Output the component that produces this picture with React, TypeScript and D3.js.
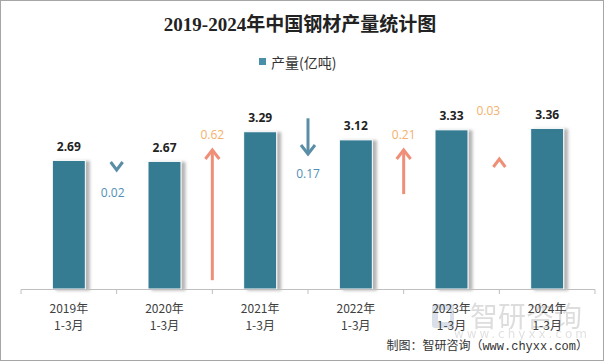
import React from "react";
import * as d3 from "d3";

const categories = ["2019年", "2020年", "2021年", "2022年", "2023年", "2024年"];
const periodLabel = "1-3月";
const production = [2.69, 2.67, 3.29, 3.12, 3.33, 3.36];
const changes = [-0.02, 0.62, -0.17, 0.21, 0.03];
const title = "2019-2024年中国钢材产量统计图";
const legendLabel = "产量(亿吨)";
const sourceText = "制图：智研咨询（www.chyxx.com）";
const watermarkName = "智研咨询";
const watermarkUrl = "www.chyxx.com";

const W = 604;
const H = 361;
const BAR = "#367b93";
const UP_ARROW = "#ef8f78";
const UP_TEXT = "#f5b06c";
const DOWN_ARROW = "#5a8ea7";
const DOWN_TEXT = "#4f8fb4";
const CJK = "'Noto Sans CJK SC', 'Noto Sans', sans-serif";

export default function App() {
  const x = d3.scaleBand<string>().domain(categories).range([21, 595]).padding(0);
  const y = d3.scaleLinear().domain([0, 4]).range([289, 97.8]);
  const arrowLen = d3.scaleLinear().domain([0, 1]).range([0, 210]);
  const step = x.bandwidth();
  const barW = step * 0.345;
  const boundaries = categories.map((c) => x(c)!).concat([x.range()[1]]);

  const arrows = changes.map((ch, i) => {
    const bx = boundaries[i + 1];
    const up = ch > 0;
    const len = arrowLen(Math.abs(ch));
    const chevron = len < 12;
    const hw = chevron ? 6 : 7;
    const hh = chevron ? 8 : 9;
    const color = up ? UP_ARROW : DOWN_ARROW;
    const tc = up ? UP_TEXT : DOWN_TEXT;
    const label = d3.format(".2f")(Math.abs(ch));
    if (up) {
      const tip = chevron ? 159 : 150;
      const labelY = chevron ? 110 : tip - 16;
      return (
        <g key={i}>
          {!chevron && (
            <line x1={bx} x2={bx} y1={tip + 1} y2={tip + len} stroke={color} strokeWidth={3} />
          )}
          <polyline
            points={`${bx - hw},${tip + hh} ${bx},${tip} ${bx + hw},${tip + hh}`}
            fill="none"
            stroke={color}
            strokeWidth={3}
          />
          <text x={chevron ? bx - 11 : bx} y={labelY} fill={tc} fontSize={12} textAnchor="middle" dominantBaseline="central" fontFamily="'Open Sans', sans-serif">
            {label}
          </text>
        </g>
      );
    }
    const tip = chevron ? 170 : 154;
    return (
      <g key={i}>
        {!chevron && (
          <line x1={bx} x2={bx} y1={tip - len} y2={tip - 1} stroke={color} strokeWidth={3} />
        )}
        <polyline
          points={`${bx - hw},${tip - hh} ${bx},${tip} ${bx + hw},${tip - hh}`}
          fill="none"
          stroke={color}
          strokeWidth={3}
        />
        <text x={chevron ? bx - 4 : bx} y={tip + (chevron ? 22 : 19)} fill={tc} fontSize={12} textAnchor="middle" dominantBaseline="central" fontFamily="'Open Sans', sans-serif">
          {label}
        </text>
      </g>
    );
  });

  return (
    <div style={{ position: "absolute", left: 0, top: 0 }}>
      <svg width={W} height={H} style={{ display: "block", background: "#fff" }}>
        <defs>
          <filter id="shadow" x="-30%" y="-10%" width="180%" height="130%">
            <feDropShadow dx={4} dy={1} stdDeviation={1.6} floodColor="#777" floodOpacity={0.55} />
          </filter>
        </defs>
        <rect x={0.5} y={0.5} width={W - 1} height={H - 1} fill="#fff" stroke="#a6a6a6" />

        <text x={300} y={24} textAnchor="middle" dominantBaseline="central" fontSize={19} fontWeight="bold" fill="#222" fontFamily="'Liberation Serif', 'Noto Sans CJK SC', serif">
          {title}
        </text>

        <rect x={259} y={58} width={7} height={7} fill="#4a8fa8" />
        <text x={271} y={61.5} dominantBaseline="central" fontSize={14} fill="#333" fontFamily={CJK}>
          {legendLabel}
        </text>

        {/* watermark */}
        <g opacity={0.5}>
          <rect x={432} y={304} width={22} height={24} rx={3} fill="#b7c3d6" />
          <rect x={438} y={310} width={12} height={12} fill="#fff" />
          <text x={526} y={315} textAnchor="middle" dominantBaseline="central" fontSize={28} fill="#bdbdbd" fontFamily={CJK}>
            {watermarkName}
          </text>
          <text x={522} y={334} textAnchor="middle" dominantBaseline="central" fontSize={12} fill="#c4c4c4" letterSpacing={3} fontFamily="'DejaVu Sans', sans-serif">
            {watermarkUrl}
          </text>
        </g>

        {production.map((v, i) => {
          const cx = x(categories[i])! + step / 2;
          return (
            <g key={categories[i]}>
              <rect
                x={cx - barW / 2}
                y={y(v)}
                width={barW}
                height={y(0) - y(v)}
                fill={BAR}
                stroke="#fff"
                strokeWidth={1}
                filter="url(#shadow)"
              />
              <text x={cx} y={y(v) - 14} textAnchor="middle" dominantBaseline="central" fontSize={12} fontWeight="bold" fill="#222" fontFamily="'Open Sans', sans-serif">
                {d3.format(".2f")(v)}
              </text>
            </g>
          );
        })}

        <line x1={21} x2={595} y1={289.5} y2={289.5} stroke="#bfbfbf" />
        {boundaries.map((b, i) => (
          <line key={i} x1={b} x2={b} y1={289.5} y2={294} stroke="#bfbfbf" />
        ))}

        {categories.map((c) => {
          const cx = x(c)! + step / 2;
          return (
            <g key={c} fontFamily={CJK} fontSize={12} fill="#404040" textAnchor="middle">
              <text x={cx} y={307} dominantBaseline="central">{c}</text>
              <text x={cx} y={324} dominantBaseline="central">{periodLabel}</text>
            </g>
          );
        })}

        {arrows}

        <text x={588} y={347} textAnchor="end" dominantBaseline="central" fontSize={12} fill="#333" fontFamily="'Liberation Mono', 'Noto Sans CJK SC', monospace">
          {sourceText}
        </text>
      </svg>
    </div>
  );
}
